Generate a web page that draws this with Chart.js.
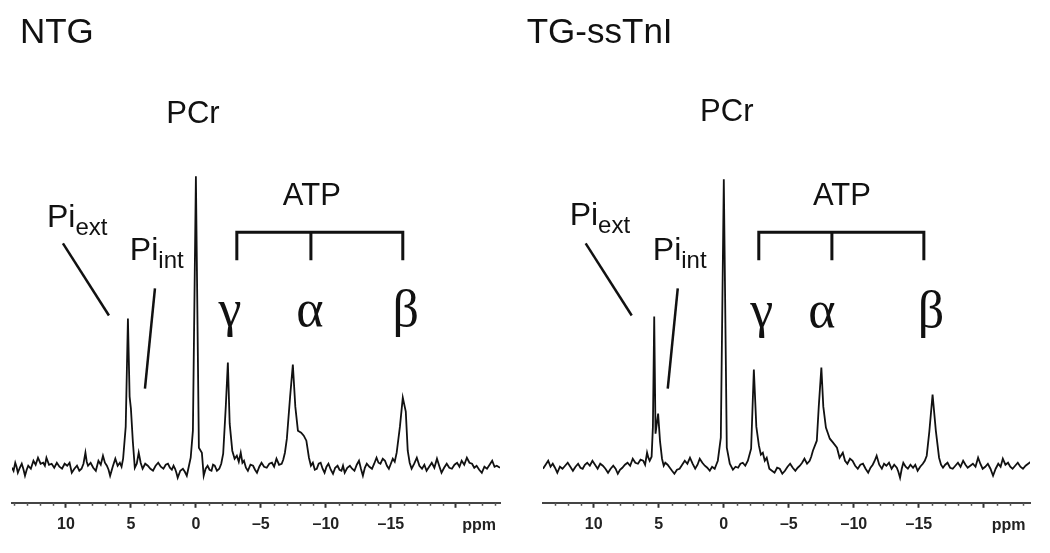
<!DOCTYPE html>
<html><head><meta charset="utf-8">
<script src="https://cdn.jsdelivr.net/npm/chart.js@4.4.1/dist/chart.umd.min.js"></script>
<style>
html,body{margin:0;padding:0;background:#fff;width:1050px;height:553px;overflow:hidden}
.panel{position:absolute;top:0;width:525px;height:553px}
</style></head><body>
<div class="panel" style="left:0"><canvas id="c1" width="525" height="553"></canvas></div>
<div class="panel" style="left:525px"><canvas id="c2" width="525" height="553"></canvas></div>
<script>
// ---- data: [chemical shift (ppm), signal intensity (a.u.)] ----
const ntgSpectrum = [
 [14.15,-1],[14.03,-4],[13.9,4],[13.8,0],[13.7,-6],[13.55,-1],[13.4,3],[13.28,-2],[13.15,-9],[13.02,-3],
 [12.9,1],[12.7,-2],[12.5,6],[12.33,2],[12.15,9],[11.95,3],[11.75,4],[11.62,1],[11.5,9],[11.3,2],
 [11.1,3],[10.9,-1],[10.7,4],[10.5,0],[10.3,-2],[10.1,3],[9.9,1],[9.72,4],[9.55,-6],[9.35,-2],
 [9.15,1],[8.97,-4],[8.8,-2],[8.65,3],[8.5,14],[8.4,5],[8.3,1],[8.1,4],[7.9,-1],[7.7,-4],
 [7.5,6],[7.32,2],[7.15,11],[7.0,4],[6.85,1],[6.72,-3],[6.6,-9],[6.4,0],[6.2,8],[6.02,1],
 [5.85,4],[5.72,0],[5.6,8],[5.4,40],[5.23,148],[5.1,70],[5.0,58],[4.85,25],[4.7,-1],[4.55,3],
 [4.4,14],[4.25,4],[4.1,-2],[3.9,3],[3.7,1],[3.5,-2],[3.3,-4],[3.1,1],[2.9,4],[2.7,0],
 [2.5,-2],[2.32,2],[2.15,3],[2.0,-1],[1.85,-3],[1.72,1],[1.6,-2],[1.5,-6],[1.4,-11],[1.2,-4],
 [1.0,-2],[0.85,-5],[0.7,-9],[0.55,0],[0.4,9],[0.23,36],[0,290],[-0.23,19],[-0.46,14],[-0.6,-9],
 [-0.75,-2],[-0.9,1],[-1.05,-3],[-1.2,-4],[-1.32,2],[-1.45,1],[-1.62,-4],[-1.8,-2],[-1.95,3],[-2.1,13],
 [-2.3,60],[-2.46,104],[-2.6,43],[-2.8,16],[-2.98,8],[-3.15,11],[-3.3,5],[-3.45,14],[-3.58,4],[-3.7,6],
 [-3.85,-1],[-4.0,-4],[-4.2,2],[-4.4,1],[-4.55,-3],[-4.7,-6],[-4.88,0],[-5.05,4],[-5.25,0],[-5.45,-1],
 [-5.65,3],[-5.85,4],[-6.02,0],[-6.2,8],[-6.4,2],[-6.6,3],[-6.72,7],[-6.85,14],[-7.0,28],[-7.25,70],
 [-7.46,102],[-7.65,60],[-7.85,36],[-8.1,34],[-8.3,31],[-8.5,26],[-8.7,9],[-8.85,1],[-9.0,4],[-9.15,-3],
 [-9.3,-2],[-9.45,3],[-9.6,4],[-9.75,-2],[-9.9,-6],[-10.05,0],[-10.2,3],[-10.38,-3],[-10.55,-7],[-10.72,-1],
 [-10.9,1],[-11.05,-3],[-11.2,-4],[-11.32,1],[-11.45,-6],[-11.65,-1],[-11.85,1],[-12.02,-2],[-12.2,-4],[-12.38,2],
 [-12.55,6],[-12.7,-2],[-12.85,-9],[-13.0,-1],[-13.15,3],[-13.35,0],[-13.55,-2],[-13.72,3],[-13.9,9],[-14.05,4],
 [-14.2,3],[-14.38,8],[-14.55,6],[-14.7,1],[-14.85,-2],[-15.0,3],[-15.15,8],[-15.3,5],[-15.45,14],[-15.7,40],
 [-15.92,69],[-16.15,55],[-16.3,16],[-16.45,4],[-16.6,-2],[-16.8,3],[-17.0,9],[-17.2,1],[-17.4,-2],[-17.58,2],
 [-17.75,-4],[-17.95,0],[-18.15,4],[-18.35,-1],[-18.55,8],[-18.72,1],[-18.9,-6],[-19.1,-1],[-19.3,3],[-19.5,-1],
 [-19.7,-2],[-19.9,2],[-20.1,4],[-20.28,0],[-20.45,6],[-20.65,2],[-20.85,9],[-21.05,4],[-21.25,3],[-21.42,-1],
 [-21.6,1],[-21.8,-3],[-22.0,-6],[-22.2,0],[-22.4,-2],[-22.6,2],[-22.8,6],[-22.98,0],[-23.15,1],[-23.4,-1]
];
const tgSpectrum = [
 [13.9,-2],[13.7,2],[13.5,6],[13.32,0],[13.15,3],[12.98,-1],[12.8,-6],[12.6,0],[12.4,-2],[12.2,1],
 [12.0,4],[11.8,0],[11.6,-4],[11.4,0],[11.2,3],[11.02,-1],[10.85,-2],[10.68,2],[10.5,4],[10.3,1],
 [10.1,6],[9.9,2],[9.7,-2],[9.5,3],[9.3,1],[9.1,-2],[8.9,-6],[8.7,-2],[8.5,1],[8.32,-2],
 [8.15,-7],[7.98,-3],[7.8,-1],[7.6,2],[7.4,4],[7.2,1],[7.0,8],[6.8,4],[6.6,3],[6.4,7],
 [6.2,6],[6.05,2],[5.9,14],[5.8,9],[5.7,6],[5.55,10],[5.45,40],[5.35,150],[5.25,33],[5.05,53],
 [4.9,25],[4.75,8],[4.62,1],[4.5,4],[4.32,2],[4.15,-1],[3.98,-4],[3.8,-7],[3.6,-3],[3.4,-2],
 [3.2,2],[3.0,6],[2.8,3],[2.6,9],[2.4,3],[2.2,-2],[2.02,2],[1.85,8],[1.65,4],[1.46,1],
 [1.27,-1],[1.08,-4],[0.9,0],[0.7,-2],[0.58,2],[0.46,6],[0.23,29],[0,287],[-0.23,19],[-0.46,3],
 [-0.7,-3],[-0.9,0],[-1.1,-1],[-1.28,3],[-1.46,4],[-1.65,1],[-1.85,6],[-2.1,18],[-2.31,97],[-2.5,40],
 [-2.7,21],[-2.85,12],[-3.0,14],[-3.15,6],[-3.3,9],[-3.5,-2],[-3.7,-4],[-3.9,-6],[-4.1,-1],[-4.3,-2],
 [-4.5,-7],[-4.7,-4],[-4.9,0],[-5.1,3],[-5.3,-1],[-5.5,-4],[-5.68,-1],[-5.85,1],[-6.02,4],[-6.2,8],
 [-6.4,3],[-6.6,6],[-6.72,10],[-6.85,16],[-7.15,26],[-7.3,60],[-7.5,99],[-7.65,60],[-7.85,39],[-8.15,28],
 [-8.4,24],[-8.7,19],[-8.9,9],[-9.15,14],[-9.32,6],[-9.5,3],[-9.7,8],[-9.9,6],[-10.1,1],[-10.3,-2],
 [-10.5,2],[-10.7,3],[-10.9,-2],[-11.1,-6],[-11.28,-1],[-11.45,2],[-11.6,6],[-11.75,11],[-11.95,2],[-12.15,-2],
 [-12.32,3],[-12.5,1],[-12.7,4],[-12.9,-2],[-13.1,2],[-13.3,-1],[-13.42,-5],[-13.55,-11],[-13.68,-2],[-13.8,4],
 [-13.98,0],[-14.15,-2],[-14.35,2],[-14.55,-1],[-14.72,2],[-14.9,-4],[-15.1,0],[-15.3,3],[-15.45,6],[-15.6,11],
 [-15.8,35],[-16.05,72],[-16.3,36],[-16.55,9],[-16.7,2],[-16.85,-1],[-17.02,2],[-17.2,4],[-17.4,-1],[-17.6,-2],
 [-17.8,1],[-18.0,4],[-18.2,0],[-18.4,6],[-18.58,2],[-18.75,-1],[-18.95,1],[-19.15,3],[-19.35,0],[-19.55,9],
 [-19.72,3],[-19.9,-2],[-20.1,0],[-20.3,3],[-20.5,-2],[-20.7,-9],[-20.9,-2],[-21.1,3],[-21.28,0],[-21.45,8],
 [-21.65,2],[-21.85,4],[-22.02,0],[-22.2,-2],[-22.4,1],[-22.6,4],[-22.8,0],[-23.0,-2],[-23.2,1],[-23.4,3],[-23.7,6]
];

const majorTickValues = [10, 5, 0, -5, -10, -15, -20];
const labeledTicks = [10, 5, 0, -5, -10, -15];
const axisUnit = 'ppm';

// ---- annotation plugin (positions in data coordinates: ppm, intensity) ----
const spectrumDecor = {
  id: 'spectrumDecor',
  afterDraw(chart, args, o) {
    const ctx = chart.ctx, xs = chart.scales.x, ys = chart.scales.y;
    const X = v => xs.getPixelForValue(v), Y = v => ys.getPixelForValue(v);
    const yb = chart.chartArea.bottom;
    ctx.save();
    // minor ticks
    ctx.strokeStyle = '#555'; ctx.lineWidth = 1.5;
    for (const t of xs.ticks) {
      if (majorTickValues.includes(t.value)) continue;
      const px = Math.round(X(t.value)) + 0.5;
      ctx.beginPath(); ctx.moveTo(px, yb); ctx.lineTo(px, yb + 3); ctx.stroke();
    }
    // unit label
    ctx.fillStyle = '#222';
    ctx.font = 'bold 16px "Liberation Sans", Arial, sans-serif';
    ctx.textAlign = 'center'; ctx.textBaseline = 'alphabetic';
    ctx.fillText(axisUnit, X(o.unitAt), yb + 27);

    ctx.fillStyle = '#111'; ctx.strokeStyle = '#111';
    // title
    ctx.font = '35px "Liberation Sans", Arial, sans-serif';
    ctx.textAlign = 'left';
    ctx.fillText(o.title, X(o.titleAt[0]), Y(o.titleAt[1]));
    // PCr
    ctx.font = '31px "Liberation Sans", Arial, sans-serif';
    ctx.textAlign = 'center';
    ctx.fillText('PCr', X(o.pcrAt[0]), Y(o.pcrAt[1]));
    // ATP
    ctx.fillText('ATP', X(o.atpAt[0]), Y(o.atpAt[1]));
    // bracket
    ctx.lineWidth = 3; ctx.lineCap = 'butt';
    const bt = Y(o.bracket.top), bb = Y(o.bracket.bottom);
    ctx.beginPath();
    ctx.moveTo(X(o.bracket.xs[0]), bb); ctx.lineTo(X(o.bracket.xs[0]), bt);
    ctx.lineTo(X(o.bracket.xs[2]), bt); ctx.lineTo(X(o.bracket.xs[2]), bb);
    ctx.moveTo(X(o.bracket.xs[1]), bt); ctx.lineTo(X(o.bracket.xs[1]), bb);
    ctx.stroke();
    // Pi labels with subscripts
    ctx.textAlign = 'left';
    for (const p of o.pi) {
      ctx.font = '32px "Liberation Sans", Arial, sans-serif';
      const x0 = X(p.at[0]), y0 = Y(p.at[1]);
      ctx.fillText('Pi', x0, y0);
      const w = ctx.measureText('Pi').width;
      ctx.font = '24px "Liberation Sans", Arial, sans-serif';
      ctx.fillText(p.sub, x0 + w, y0 + 8);
      ctx.lineWidth = 2.5;
      ctx.beginPath();
      ctx.moveTo(X(p.line[0]), Y(p.line[1]));
      ctx.lineTo(X(p.line[2]), Y(p.line[3]));
      ctx.stroke();
    }
    // Greek letters
    ctx.font = '52px "Liberation Serif", "Times New Roman", serif';
    ctx.textAlign = 'center';
    for (const g of o.greek) ctx.fillText(g.t, X(g.at[0]), Y(g.at[1]));
    ctx.restore();
  }
};

function makeChart(id, spectrum, pad, range, decor) {
  return new Chart(document.getElementById(id), {
    type: 'line',
    data: { datasets: [{
      data: spectrum.map(([p, v]) => ({ x: p, y: v })),
      borderColor: '#111', borderWidth: 1.8, pointRadius: 0, tension: 0, fill: false
    }]},
    options: {
      responsive: false, animation: false, events: [],
      layout: { padding: pad },
      plugins: { legend: { display: false }, tooltip: { enabled: false }, spectrumDecor: decor },
      scales: {
        x: {
          type: 'linear', reverse: true, min: range[0], max: range[1],
          afterBuildTicks: s => {
            const t = [];
            for (let v = Math.ceil(range[0]); v <= Math.floor(range[1]); v++) t.push({ value: v });
            s.ticks = t;
          },
          ticks: {
            autoSkip: false, maxRotation: 0, padding: 7, color: '#222',
            font: { family: '"Liberation Sans", Arial, sans-serif', size: 16, weight: 'bold' },
            callback: v => labeledTicks.includes(v) ? (v < 0 ? '\u2013' + Math.abs(v) : String(v)) : ''
          },
          grid: {
            display: true, drawOnChartArea: false, tickLength: 5, tickWidth: 2,
            tickColor: c => (c.tick && majorTickValues.includes(c.tick.value)) ? '#333' : 'rgba(0,0,0,0)'
          },
          border: { display: true, color: '#444', width: 2 }
        },
        y: { display: false, min: -36, max: 406 }
      }
    },
    plugins: [spectrumDecor]
  });
}

makeChart('c1', ntgSpectrum, { left: 12, right: 25, top: 60, bottom: 12 }, [-23.4, 14.15], {
  title: 'NTG', titleAt: [13.54, 423], unitAt: -21.8,
  pcrAt: [0.23, 343], atpAt: [-8.92, 261],
  bracket: { top: 234, bottom: 206, xs: [-3.15, -8.85, -15.92] },
  pi: [ { sub: 'ext', at: [11.46, 239], line: [10.23, 223, 6.69, 151] },
        { sub: 'int', at: [5.08, 206], line: [3.15, 178, 3.92, 78] } ],
  greek: [ { t: '\u03b3', at: [-2.62, 140] }, { t: '\u03b1', at: [-8.77, 140] }, { t: '\u03b2', at: [-16.15, 140] } ]
});

makeChart('c2', tgSpectrum, { left: 18, right: 20, top: 60, bottom: 12 }, [-23.54, 13.9], {
  title: 'TG-ssTnI', titleAt: [15.15, 423], unitAt: -21.9,
  pcrAt: [-0.23, 345], atpAt: [-9.08, 261],
  bracket: { top: 234, bottom: 206, xs: [-2.69, -8.31, -15.38] },
  pi: [ { sub: 'ext', at: [11.85, 241], line: [10.62, 223, 7.08, 151] },
        { sub: 'int', at: [5.46, 206], line: [3.54, 178, 4.31, 78] } ],
  greek: [ { t: '\u03b3', at: [-2.92, 139] }, { t: '\u03b1', at: [-7.54, 139] }, { t: '\u03b2', at: [-15.92, 139] } ]
});
</script>
</body></html>
